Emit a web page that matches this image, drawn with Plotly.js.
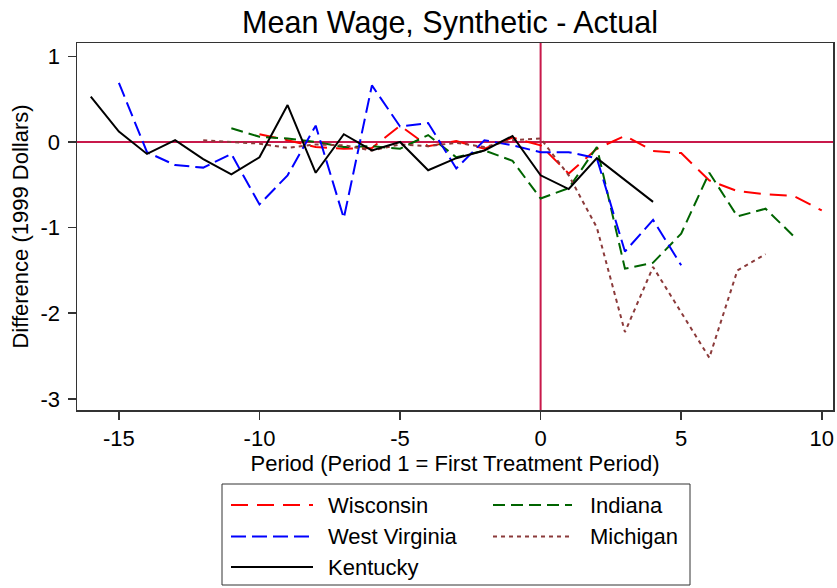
<!DOCTYPE html>
<html>
<head>
<meta charset="utf-8">
<script src="https://cdn.plot.ly/plotly-3.0.1.min.js"></script>
<style>html,body{margin:0;padding:0;background:#fff;}#chart{width:837px;height:588px;}</style>
</head>
<body>
<div id="chart"></div>
<script>
// ---- Data ----
const wisconsinX = [-10,-9,-8,-7,-6,-5,-4,-3,-2,-1,0,1,2,3,4,5,6,7,8,9,10];
const wisconsinY = [0.09,0.02,-0.06,-0.08,-0.07,0.19,-0.05,0.01,-0.08,0.05,-0.04,-0.37,-0.08,0.07,-0.105,-0.13,-0.45,-0.575,-0.61,-0.63,-0.80];

const indianaX = [-11,-10,-9,-8,-7,-6,-5,-4,-3,-2,-1,0,1,2,3,4,5,6,7,8,9];
const indianaY = [0.16,0.06,0.04,0.0,-0.06,-0.05,-0.08,0.08,-0.18,-0.10,-0.22,-0.66,-0.54,-0.06,-1.48,-1.41,-1.07,-0.36,-0.87,-0.78,-1.10];

const westVirginiaX = [-15,-14,-13,-12,-11,-10,-9,-8,-7,-6,-5,-4,-3,-2,-1,0,1,2,3,4,5];
const westVirginiaY = [0.69,-0.12,-0.27,-0.30,-0.14,-0.73,-0.39,0.19,-0.89,0.66,0.18,0.22,-0.31,0.02,-0.04,-0.12,-0.12,-0.19,-1.28,-0.91,-1.44];

const michiganX = [-12,-11,-10,-9,-8,-7,-6,-5,-4,-3,-2,-1,0,1,2,3,4,5,6,7,8];
const michiganY = [0.02,0.0,-0.02,-0.07,-0.03,-0.04,-0.10,-0.03,-0.05,-0.01,-0.06,0.02,0.04,-0.39,-1.00,-2.22,-1.46,-1.99,-2.52,-1.50,-1.31];

const kentuckyX = [-16,-15,-14,-13,-12,-11,-10,-9,-8,-7,-6,-5,-4,-3,-2,-1,0,1,2,3,4];
const kentuckyY = [0.53,0.12,-0.14,0.02,-0.20,-0.38,-0.18,0.43,-0.36,0.09,-0.10,0.0,-0.33,-0.19,-0.10,0.07,-0.39,-0.55,-0.19,-0.45,-0.70];

const seriesNames = ["Wisconsin","Indiana","West Virginia","Michigan","Kentucky"];
const xTickVals = [-15,-10,-5,0,5,10];
const xTickText = ["-15","-10","-5","0","5","10"];
const yTickVals = [1,0,-1,-2,-3];
const yTickText = ["1","0","-1","-2","-3"];

// ---- Styles ----
const styles = {
  "Wisconsin":     {color:"#FF0000", dash:"17px,9px"},
  "Indiana":       {color:"#006400", dash:"12px,6px"},
  "West Virginia": {color:"#0000FF", dash:"15px,6px"},
  "Michigan":      {color:"#8B3A3A", dash:"4px,4px"},
  "Kentucky":      {color:"#000000", dash:"solid"}
};
const seriesData = {
  "Wisconsin":[wisconsinX,wisconsinY],
  "Indiana":[indianaX,indianaY],
  "West Virginia":[westVirginiaX,westVirginiaY],
  "Michigan":[michiganX,michiganY],
  "Kentucky":[kentuckyX,kentuckyY]
};

const FONT = "Liberation Sans, Arial, Helvetica, sans-serif";
const W = 837, H = 588;
const M = {l:77, r:4, t:43, b:178};
const pw = W - M.l - M.r, ph = H - M.t - M.b;
const px2x = p => (p - M.l) / pw;
const px2y = p => (H - M.b - p) / ph;

const traces = seriesNames.map(n => ({
  type:"scatter", mode:"lines", name:n,
  x: seriesData[n][0], y: seriesData[n][1],
  line:{color:styles[n].color, dash:styles[n].dash, width:2},
  showlegend:false, hoverinfo:"x+y+name"
}));

// Reference lines at 0
const shapes = [
  {type:"line", xref:"paper", yref:"y", x0:0, x1:1, y0:0, y1:0, line:{color:"#C8194B", width:2}, layer:"below"},
  {type:"line", xref:"x", yref:"paper", x0:0, x1:0, y0:0, y1:1, line:{color:"#C8194B", width:2}, layer:"below"}
];
const annotations = [];

// Manual legend (two columns, row-major), built from series names/styles
const legBox = {x0:222, x1:690, y0:484, y1:585};
shapes.push({type:"rect", xref:"paper", yref:"paper",
  x0:px2x(legBox.x0), x1:px2x(legBox.x1), y0:px2y(legBox.y1), y1:px2y(legBox.y0),
  line:{color:"#333", width:1}, fillcolor:"rgba(0,0,0,0)"});
const colLine = [[231,313],[493,572]];
const colText = [326,588];
const rowY = [505,536.5,567];
seriesNames.forEach((n,i) => {
  const c = i % 2, r = Math.floor(i/2);
  shapes.push({type:"line", xref:"paper", yref:"paper",
    x0:px2x(colLine[c][0]), x1:px2x(colLine[c][1]), y0:px2y(rowY[r]), y1:px2y(rowY[r]),
    line:{color:styles[n].color, dash:styles[n].dash, width:2}});
  annotations.push({xref:"paper", yref:"paper", x:px2x(colText[c]), y:px2y(rowY[r]),
    xanchor:"left", yanchor:"middle", showarrow:false, text:n,
    font:{family:FONT, size:22, color:"#000"}});
});

const layout = {
  width:W, height:H,
  margin:M,
  paper_bgcolor:"#fff", plot_bgcolor:"#fff",
  font:{family:FONT, color:"#000"},
  title:{text:"Mean Wage, Synthetic - Actual", font:{family:FONT, size:30.5, color:"#000"},
         xref:"container", x:450/837, xanchor:"center", yref:"container", y:1-22/588, yanchor:"middle"},
  xaxis:{range:[-16.49,10.40], tickvals:xTickVals, ticktext:xTickText,
         ticks:"outside", ticklen:8, tickwidth:1.5, tickcolor:"#333",
         showline:true, mirror:true, linecolor:"#333", linewidth:1.5,
         showgrid:false, zeroline:false, tickfont:{family:FONT, size:22},
         ticklabelstandoff:0,
         title:{text:"Period (Period 1 = First Treatment Period)", font:{family:FONT, size:22}, standoff:1}},
  yaxis:{range:[-3.13,1.155], tickvals:yTickVals, ticktext:yTickText,
         ticks:"outside", ticklen:8, tickwidth:1.5, tickcolor:"#333",
         showline:true, mirror:true, linecolor:"#333", linewidth:1.5,
         showgrid:false, zeroline:false, tickfont:{family:FONT, size:22},
         ticklabelstandoff:3,
         title:{text:"Difference (1999 Dollars)", font:{family:FONT, size:22}, standoff:6}},
  shapes:shapes,
  annotations:annotations,
  showlegend:false
};

Plotly.newPlot("chart", traces, layout, {staticPlot:true, displayModeBar:false});
</script>
</body>
</html>
